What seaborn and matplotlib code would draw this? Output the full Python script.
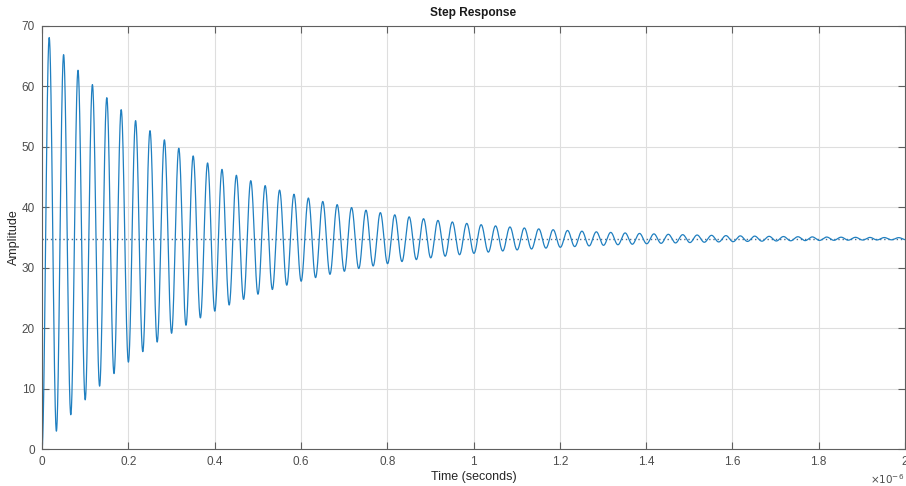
import numpy as np
import pandas as pd
import seaborn as sns
import matplotlib
matplotlib.use("Agg")
import matplotlib.pyplot as plt
from matplotlib.ticker import FuncFormatter, MultipleLocator

# Second-order system: steady-state gain, natural frequency (rad/s), damping ratio
dc_gain = [34.8]
natural_freq = [1.8832e8]
damping_ratio = [0.01413]

# Simulation window (s)
t_end = [2.0e-6]

x_ticks = [0, 0.2, 0.4, 0.6, 0.8, 1.0, 1.2, 1.4, 1.6, 1.8, 2.0]
y_ticks = [0, 10, 20, 30, 40, 50, 60, 70]

# Closed-form underdamped step response
K, wn, zeta = dc_gain[0], natural_freq[0], damping_ratio[0]
sigma = zeta * wn
wd = wn * np.sqrt(1 - zeta ** 2)
t = np.linspace(0, t_end[0], 12000)
y = K * (1 - np.exp(-sigma * t) * (np.cos(wd * t) + sigma / wd * np.sin(wd * t)))
df = pd.DataFrame({"t_us": t * 1e6, "amp": y})

sns.set_theme(style="white")
plt.rcParams["font.family"] = ["Liberation Sans", "DejaVu Sans"]

fig = plt.figure(figsize=(9.06, 4.86), dpi=100)
ax = fig.add_axes([42 / 906, 1 - 449 / 486, 863 / 906, 423 / 486])

sns.lineplot(data=df, x="t_us", y="amp", ax=ax, color="#1f7fc0", lw=0.9,
             estimator=None, sort=False)
ax.axhline(K, color="#4f6f8f", lw=1.0, ls=(0, (1, 2)), zorder=1)

ax.set_xlim(0, 2)
ax.set_ylim(0, 70)
ax.set_xticks(x_ticks)
ax.set_yticks(y_ticks)
ax.xaxis.set_major_formatter(FuncFormatter(lambda v, p: f"{v:g}"))
ax.yaxis.set_major_formatter(FuncFormatter(lambda v, p: f"{v:g}"))

ax.grid(True, color="#dedede", lw=0.8)
ax.set_axisbelow(True)
for s in ax.spines.values():
    s.set_color("#5f5f5f")
    s.set_linewidth(0.8)
    s.set_visible(True)
ax.tick_params(axis="both", which="both", direction="in", length=5, width=0.8,
               colors="#5f5f5f", labelcolor="#4d4d4d", labelsize=8.5,
               top=True, right=True, bottom=True, left=True, pad=5)

ax.set_xlabel("Time (seconds)", fontsize=9, color="#262626", labelpad=2)
ax.set_ylabel("Amplitude", fontsize=9, color="#262626", labelpad=1)
ax.set_title("Step Response", fontsize=8.6, fontweight="bold", color="#1a1a1a", pad=7)

ax.text(0.999, -0.055, r"$\times 10^{-6}$", transform=ax.transAxes, ha="right",
        va="top", fontsize=7.5, color="#4d4d4d")

fig.savefig("out.png", dpi=100)
